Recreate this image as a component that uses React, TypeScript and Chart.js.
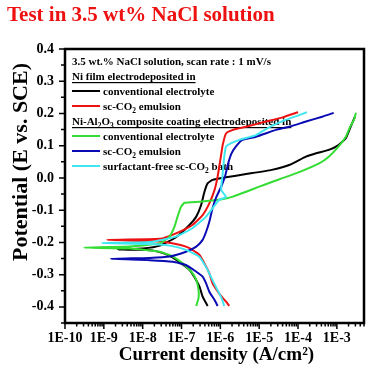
import React, { useEffect, useRef } from "react";
import { Chart, registerables } from "chart.js";

Chart.register(...registerables);

// ---- data (current density A/cm2, potential V vs SCE) ----
const niConvI = [4.7e-7, 3.5e-7, 2.9e-7, 2.1e-7, 1.6e-7, 9.8e-8, 4.9e-8, 2.2e-8, 1.0e-8, 2.3e-9, 1.0e-8, 2.8e-8, 7.2e-8, 1.6e-7, 2.4e-7, 3.2e-7, 3.9e-7, 4.7e-7, 6.3e-7, 1.4e-6, 4.6e-6, 2.1e-5, 5.9e-5, 1.6e-4, 2.8e-4, 6.2e-4, 1.1e-3, 1.7e-3, 2.3e-3, 2.9e-3];
const niConvE = [-0.397, -0.368, -0.337, -0.306, -0.285, -0.265, -0.241, -0.227, -0.223, -0.222, -0.219, -0.21, -0.184, -0.146, -0.12, -0.084, -0.043, -0.017, -0.006, 0.002, 0.012, 0.025, 0.04, 0.066, 0.076, 0.087, 0.102, 0.123, 0.161, 0.189];

const niScI = [1.7e-6, 1.4e-6, 9.3e-7, 6.3e-7, 5.2e-7, 3.9e-7, 2.9e-7, 1.9e-7, 1.3e-7, 7.2e-8, 2.8e-8, 1.2e-9, 2.8e-8, 7.2e-8, 1.9e-7, 3.5e-7, 5.2e-7, 7.1e-7, 8.5e-7, 1.0e-6, 1.15e-6, 1.4e-6, 2.1e-6, 4.6e-6, 1.5e-5, 4.0e-5, 1.0e-4];
const niScE = [-0.397, -0.384, -0.358, -0.327, -0.296, -0.265, -0.239, -0.223, -0.213, -0.205, -0.197, -0.192, -0.189, -0.172, -0.146, -0.115, -0.079, -0.037, 0.004, 0.056, 0.102, 0.138, 0.149, 0.159, 0.175, 0.188, 0.204];

const compConvI = [2.4e-7, 2.75e-7, 2.75e-7, 2.4e-7, 1.8e-7, 1.07e-7, 6.0e-8, 2.8e-8, 4.7e-9, 3.1e-10, 4.7e-9, 2.8e-8, 4.9e-8, 6.6e-8, 7.9e-8, 9.8e-8, 1.2e-7, 2.9e-7, 9.3e-7, 2.1e-6, 4.6e-6, 1.0e-5, 2.2e-5, 1.07e-4, 3.5e-4, 6.2e-4, 1.1e-3, 1.7e-3, 2.2e-3, 2.75e-3, 3.1e-3];
const compConvE = [-0.397, -0.372, -0.348, -0.316, -0.291, -0.265, -0.244, -0.229, -0.219, -0.216, -0.213, -0.203, -0.182, -0.151, -0.12, -0.089, -0.077, -0.074, -0.068, -0.058, -0.043, -0.027, -0.012, 0.018, 0.045, 0.066, 0.097, 0.128, 0.159, 0.18, 0.202];

const compScI = [8.5e-7, 7.1e-7, 5.2e-7, 4.3e-7, 3.5e-7, 2.4e-7, 1.3e-7, 6.0e-8, 1.5e-8, 1.5e-9, 1.5e-8, 4.9e-8, 1.3e-7, 2.4e-7, 3.5e-7, 4.3e-7, 5.2e-7, 6.3e-7, 7.9e-7, 1.07e-6, 1.35e-6, 1.6e-6, 1.9e-6, 2.5e-6, 3.7e-6, 8.3e-6, 2.7e-5, 5.9e-5, 1.6e-4, 4.2e-4, 8.3e-4];
const compScE = [-0.397, -0.379, -0.353, -0.327, -0.306, -0.291, -0.27, -0.26, -0.255, -0.251, -0.248, -0.244, -0.229, -0.213, -0.192, -0.167, -0.136, -0.094, -0.059, -0.025, 0.009, 0.046, 0.074, 0.097, 0.118, 0.128, 0.149, 0.159, 0.175, 0.19, 0.202];

const compSfI = [1.26e-6, 1.07e-6, 7.9e-7, 5.9e-7, 4.4e-7, 2.9e-7, 1.3e-7, 4.9e-8, 1.5e-8, 8.9e-10, 1.5e-8, 7.2e-8, 1.9e-7, 4.3e-7, 7.8e-7, 9.3e-7, 1.4e-6, 1.05e-6, 1.15e-6, 1.26e-6, 1.4e-6, 1.9e-6, 3.1e-6, 8.3e-6, 1.8e-5, 4.8e-5, 1.07e-4, 1.7e-4];
const compSfE = [-0.397, -0.372, -0.341, -0.31, -0.279, -0.245, -0.223, -0.21, -0.205, -0.202, -0.199, -0.182, -0.156, -0.12, -0.079, -0.068, -0.059, -0.037, 0.014, 0.066, 0.097, 0.108, 0.118, 0.133, 0.157, 0.18, 0.195, 0.204];

// ---- axes ----
const X_TICKS = [1e-10, 1e-9, 1e-8, 1e-7, 1e-6, 1e-5, 1e-4, 1e-3];
const X_TICK_LABELS = ["1E-10", "1E-9", "1E-8", "1E-7", "1E-6", "1E-5", "1E-4", "1E-3"];
const X_MINOR_MULT = [2, 3, 4, 5, 6, 7, 8, 9];
const X_MIN = 1e-10;
const X_MAX = 5e-3;
const Y_TICKS = [-0.4, -0.3, -0.2, -0.1, 0, 0.1, 0.2, 0.3, 0.4];
const Y_MINOR = [-0.45, -0.35, -0.25, -0.15, -0.05, 0.05, 0.15, 0.25, 0.35];
const Y_MIN = -0.45;
const Y_MAX = 0.4;

// ---- text ----
const TITLE = "Test in 3.5 wt% NaCl solution";
const X_TITLE = "Current density (A/cm²)";
const Y_TITLE = "Potential (E vs. SCE)";

const COLORS = ["#000000", "#ee1111", "#33dd33", "#0a0ab4", "#3ee6f0"];

type Seg = { t: string; sub?: boolean };
type Row = { segs: Seg[]; underline?: boolean; color?: string };
const LEGEND_ROWS: Row[] = [
  { segs: [{ t: "3.5 wt.% NaCl solution, scan rate : 1 mV/s" }] },
  { segs: [{ t: "Ni film electrodeposited in" }], underline: true },
  { segs: [{ t: "conventional electrolyte" }], color: COLORS[0] },
  { segs: [{ t: "sc-CO" }, { t: "2", sub: true }, { t: " emulsion" }], color: COLORS[1] },
  { segs: [{ t: "Ni-Al" }, { t: "2", sub: true }, { t: "O" }, { t: "3", sub: true }, { t: " composite coating electrodeposited in" }], underline: true },
  { segs: [{ t: "conventional electrolyte" }], color: COLORS[2] },
  { segs: [{ t: "sc-CO" }, { t: "2", sub: true }, { t: " emulsion" }], color: COLORS[3] },
  { segs: [{ t: "surfactant-free sc-CO" }, { t: "2", sub: true }, { t: " bath" }], color: COLORS[4] },
];

const FONT = "'Liberation Serif', 'Times New Roman', serif";

function drawRich(ctx: CanvasRenderingContext2D, segs: Seg[], x: number, y: number, size: number, underline?: boolean) {
  let cx = x;
  for (const s of segs) {
    const fs = s.sub ? size * 0.68 : size;
    ctx.font = `bold ${fs}px ${FONT}`;
    ctx.fillText(s.t, cx, s.sub ? y + size * 0.3 : y);
    cx += ctx.measureText(s.t).width;
  }
  if (underline) ctx.fillRect(x, y + 2, cx - x, 1.2);
}

const decor = {
  id: "decor",
  beforeDatasetsDraw(chart: any) {
    const ctx: CanvasRenderingContext2D = chart.ctx;
    const { left, top } = chart.chartArea;
    ctx.save();
    ctx.textBaseline = "alphabetic";
    ctx.textAlign = "left";
    LEGEND_ROWS.forEach((row, i) => {
      const cy = top + 12 + i * 15;
      if (row.color) {
        ctx.strokeStyle = row.color;
        ctx.lineWidth = 2;
        ctx.beginPath();
        ctx.moveTo(left + 7, cy);
        ctx.lineTo(left + 35, cy);
        ctx.stroke();
      }
      ctx.fillStyle = "#000";
      drawRich(ctx, row.segs, row.color ? left + 38 : left + 7, cy + 4, 11, row.underline);
    });
    ctx.restore();
  },
  afterDraw(chart: any) {
    const ctx: CanvasRenderingContext2D = chart.ctx;
    const { left, right, top, bottom } = chart.chartArea;
    const xs = chart.scales.x;
    const ys = chart.scales.y;
    ctx.save();
    ctx.strokeStyle = "#000";
    ctx.lineWidth = 2.5;
    ctx.strokeRect(left, top, right - left, bottom - top);
    ctx.lineWidth = 1.5;
    ctx.beginPath();
    for (const d of X_TICKS) {
      const px = xs.getPixelForValue(d);
      ctx.moveTo(px, bottom);
      ctx.lineTo(px, bottom + 6);
      for (const m of X_MINOR_MULT) {
        const v = d * m;
        if (v > X_MAX) break;
        const p = xs.getPixelForValue(v);
        ctx.moveTo(p, bottom);
        ctx.lineTo(p, bottom + 3.5);
      }
    }
    for (const v of Y_TICKS) {
      const py = ys.getPixelForValue(v);
      ctx.moveTo(left, py);
      ctx.lineTo(left - 6, py);
    }
    for (const v of Y_MINOR) {
      const py = ys.getPixelForValue(v);
      ctx.moveTo(left, py);
      ctx.lineTo(left - 4, py);
    }
    ctx.stroke();

    ctx.fillStyle = "#ee1111";
    ctx.font = `bold 21px ${FONT}`;
    ctx.textAlign = "left";
    ctx.textBaseline = "alphabetic";
    ctx.fillText(TITLE, 7, 21);

    ctx.fillStyle = "#000";
    ctx.font = `bold 19px ${FONT}`;
    ctx.textAlign = "center";
    ctx.fillText(X_TITLE, (left + right) / 2 + 2, 360);

    ctx.translate(27, 162);
    ctx.rotate(-Math.PI / 2);
    ctx.font = `bold 22px ${FONT}`;
    ctx.fillText(Y_TITLE, 0, 0);
    ctx.restore();
  },
};

const SERIES = [
  { label: "Ni film, conventional electrolyte", i: niConvI, e: niConvE, color: COLORS[0], order: 5 },
  { label: "Ni film, sc-CO2 emulsion", i: niScI, e: niScE, color: COLORS[1], order: 4 },
  { label: "Ni-Al2O3, conventional electrolyte", i: compConvI, e: compConvE, color: COLORS[2], order: 3 },
  { label: "Ni-Al2O3, sc-CO2 emulsion", i: compScI, e: compScE, color: COLORS[3], order: 2 },
  { label: "Ni-Al2O3, surfactant-free sc-CO2 bath", i: compSfI, e: compSfE, color: COLORS[4], order: 1 },
];

export default function App() {
  const ref = useRef<HTMLCanvasElement | null>(null);
  useEffect(() => {
    if (!ref.current) return;
    const tickFont = { family: FONT, size: 14, weight: "bold" as const };
    const chart = new Chart(ref.current, {
      type: "line",
      data: {
        datasets: SERIES.map((s) => ({
          label: s.label,
          data: s.i.map((x, k) => ({ x, y: s.e[k] })),
          borderColor: s.color,
          backgroundColor: s.color,
          borderWidth: 2,
          pointRadius: 0,
          tension: 0.15,
          fill: false,
          order: s.order,
        })),
      },
      options: {
        animation: false,
        responsive: false,
        maintainAspectRatio: false,
        layout: { padding: { top: 49, right: 11, left: 0, bottom: 0 } },
        plugins: { legend: { display: false }, tooltip: { enabled: false }, title: { display: false } },
        scales: {
          x: {
            type: "logarithmic",
            min: X_MIN,
            max: X_MAX,
            afterFit: (s: any) => { s.height = 53; },
            afterBuildTicks: (s: any) => { s.ticks = X_TICKS.map((v) => ({ value: v })); },
            ticks: {
              autoSkip: false,
              maxRotation: 0,
              color: "#000",
              font: tickFont,
              padding: 7,
              callback: (v: any) => {
                const idx = X_TICKS.findIndex((t) => Math.abs(Math.log10(t) - Math.log10(Number(v))) < 1e-6);
                return idx >= 0 ? X_TICK_LABELS[idx] : "";
              },
            },
            grid: { display: false, drawTicks: false },
            border: { display: false },
          },
          y: {
            type: "linear",
            min: Y_MIN,
            max: Y_MAX,
            afterFit: (s: any) => { s.width = 65; },
            afterBuildTicks: (s: any) => { s.ticks = Y_TICKS.map((v) => ({ value: v })); },
            ticks: {
              autoSkip: false,
              color: "#000",
              font: tickFont,
              padding: 11,
              callback: (v: any) => Number(v).toFixed(1),
            },
            grid: { display: false, drawTicks: false },
            border: { display: false },
          },
        },
      },
      plugins: [decor],
    });
    return () => chart.destroy();
  }, []);
  return (
    <canvas
      ref={ref}
      width={375}
      height={376}
      style={{ position: "absolute", left: 0, top: 0, width: 375, height: 376, background: "#fff" }}
    />
  );
}
